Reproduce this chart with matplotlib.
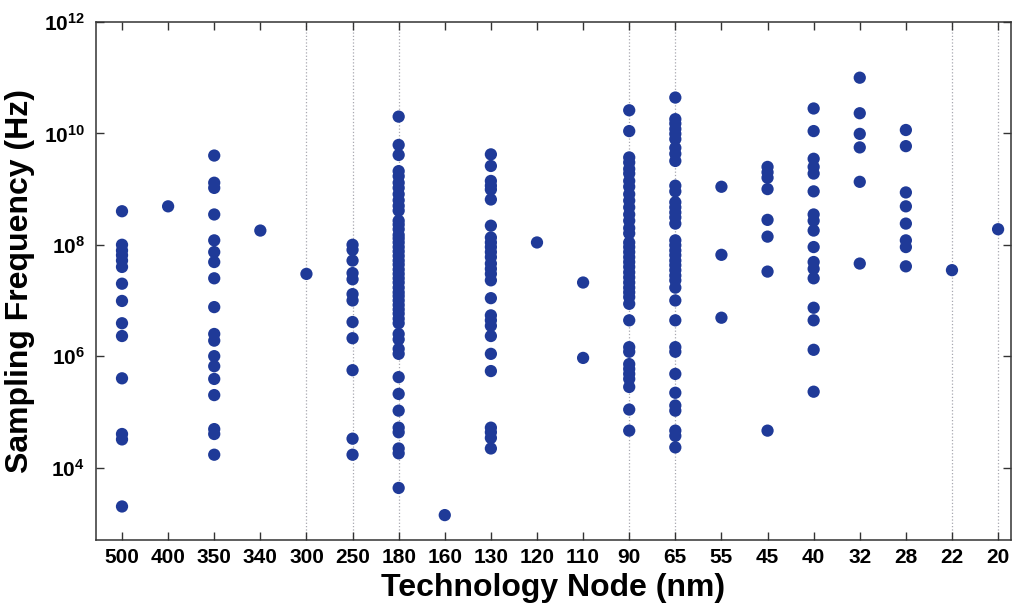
import matplotlib.pyplot as plt

plt.rcParams['font.family'] = ['Liberation Sans', 'DejaVu Sans']
plt.rcParams['mathtext.fontset'] = 'custom'
plt.rcParams['mathtext.rm'] = 'Liberation Sans:bold'
plt.rcParams['mathtext.bf'] = 'Liberation Sans:bold'

# Technology nodes (nm) and reported sampling frequencies (Hz) per node
nodes = ['500', '400', '350', '340', '300', '250', '180', '160', '130', '120',
         '110', '90', '65', '55', '45', '40', '32', '28', '22', '20']

f500 = [4.0e8, 1.0e8, 7.9e7, 6.5e7, 5.2e7, 4.0e7, 2.0e7, 9.8e6, 3.9e6, 2.3e6,
        4.0e5, 4.0e4, 3.2e4, 2.0e3]
f400 = [4.9e8]
f350 = [4.0e9, 1.3e9, 1.05e9, 3.5e8, 1.2e8, 7.4e7, 4.9e7, 2.5e7, 7.6e6, 2.5e6,
        1.9e6, 1.0e6, 6.6e5, 3.9e5, 2.0e5, 4.9e4, 4.0e4, 1.7e4]
f340 = [1.8e8]
f300 = [3.0e7]
f250 = [1.0e8, 8.1e7, 5.2e7, 3.1e7, 2.4e7, 1.3e7, 1.0e7, 4.1e6, 2.1e6, 5.6e5,
        3.3e4, 1.7e4]
f180 = [2.0e10, 6.2e9, 4.1e9, 2.1e9, 1.7e9, 1.3e9, 1.05e9, 8.1e8, 6.3e8, 5.0e8,
        4.1e8, 2.7e8, 2.3e8, 1.9e8, 1.5e8, 1.3e8, 1.1e8, 9.1e7, 7.6e7, 6.3e7,
        5.2e7, 4.4e7, 3.6e7, 3.0e7, 2.5e7, 2.1e7, 1.7e7, 1.4e7, 1.2e7, 1.0e7,
        8.3e6, 6.9e6, 5.8e6, 4.7e6, 3.9e6, 2.5e6, 2.0e6, 1.35e6, 1.1e6, 4.2e5,
        2.1e5, 1.05e5, 5.2e4, 4.3e4, 2.2e4, 1.8e4, 4.3e3]
f160 = [1.4e3]
f130 = [4.2e9, 2.6e9, 1.4e9, 1.15e9, 9.8e8, 6.5e8, 2.2e8, 1.35e8, 1.1e8, 9.1e7,
        7.4e7, 6.0e7, 4.6e7, 3.7e7, 3.0e7, 2.3e7, 1.1e7, 5.4e6, 4.4e6, 3.5e6,
        2.3e6, 1.1e6, 5.4e5, 5.2e4, 4.3e4, 3.4e4, 2.2e4]
f120 = [1.1e8]
f110 = [2.1e7, 9.3e5]
f90 = [2.6e10, 1.1e10, 3.7e9, 3.0e9, 2.3e9, 1.9e9, 1.4e9, 1.1e9, 8.1e8, 6.2e8,
       4.7e8, 3.5e8, 2.7e8, 2.0e8, 1.6e8, 1.1e8, 9.1e7, 7.4e7, 6.0e7, 4.9e7,
       4.0e7, 3.2e7, 2.6e7, 2.1e7, 1.7e7, 1.4e7, 1.15e7, 8.7e6, 4.4e6, 1.45e6,
       1.2e6, 7.2e5, 5.9e5, 4.8e5, 3.9e5, 2.8e5, 1.1e5, 4.6e4]
f65 = [4.4e10, 1.8e10, 1.5e10, 1.2e10, 9.8e9, 7.9e9, 5.5e9, 4.3e9, 3.2e9, 1.15e9,
       9.1e8, 5.8e8, 4.7e8, 3.8e8, 3.1e8, 2.4e8, 1.2e8, 9.8e7, 7.9e7, 6.5e7,
       5.2e7, 4.3e7, 3.5e7, 2.8e7, 2.3e7, 1.7e7, 1.0e7, 4.4e6, 1.45e6, 1.2e6,
       4.8e5, 2.2e5, 1.3e5, 1.05e5, 4.6e4, 3.7e4, 2.3e4]
f55 = [1.1e9, 6.6e7, 4.9e6]
f45 = [2.5e9, 2.0e9, 1.6e9, 1.0e9, 2.8e8, 1.4e8, 3.3e7, 4.6e4]
f40 = [2.8e10, 1.1e10, 3.5e9, 2.5e9, 1.9e9, 9.1e8, 3.5e8, 2.7e8, 1.8e8, 9.1e7,
       4.9e7, 3.7e7, 2.5e7, 7.4e6, 4.4e6, 1.3e6, 2.3e5]
f32 = [1.0e11, 2.3e10, 9.8e9, 5.6e9, 1.35e9, 4.6e7]
f28 = [1.15e10, 5.9e9, 8.7e8, 4.9e8, 2.4e8, 1.2e8, 9.1e7, 4.1e7]
f22 = [3.5e7]
f20 = [1.9e8]

freqs = [f500, f400, f350, f340, f300, f250, f180, f160, f130, f120,
         f110, f90, f65, f55, f45, f40, f32, f28, f22, f20]

# nodes that carry a dotted vertical guide line
grid_nodes = ['300', '250', '180', '90', '65', '22', '20']

fig = plt.figure(figsize=(10.13, 6.03), dpi=100)
ax = fig.add_axes([96 / 1013, 63 / 603, 915 / 1013, 518 / 603])

for g in grid_nodes:
    ax.axvline(nodes.index(g) + 1, color='#a8a8b0', linestyle=':', linewidth=0.9, zorder=0)

for i, f in enumerate(freqs):
    ax.scatter([i + 1] * len(f), f, s=78, color='#1f3a98', edgecolors='none', zorder=3)

ax.set_yscale('log')
ax.set_ylim(500, 1e12)
ax.set_xlim(0.436, 20.28)
ax.set_xticks(range(1, len(nodes) + 1))
ax.set_xticklabels(nodes, fontsize=15, fontweight='bold')
ax.set_yticks([1e4, 1e6, 1e8, 1e10, 1e12])
ax.set_yticklabels([r'$\mathbf{10^{4}}$', r'$\mathbf{10^{6}}$', r'$\mathbf{10^{8}}$',
                    r'$\mathbf{10^{10}}$', r'$\mathbf{10^{12}}$'], fontsize=15)
ax.minorticks_off()
ax.tick_params(direction='in', top=True, right=True, length=6, width=1, color='#333333')
ax.tick_params(axis='x', pad=6)
ax.tick_params(axis='y', pad=8)
for sp in ax.spines.values():
    sp.set_color('#333333')
    sp.set_linewidth(1.1)

ax.set_xlabel('Technology Node (nm)', fontsize=23, fontweight='bold', labelpad=4)
ax.set_ylabel('Sampling Frequency (Hz)', fontsize=23, fontweight='bold', labelpad=6)

plt.savefig('out.png', dpi=100)
